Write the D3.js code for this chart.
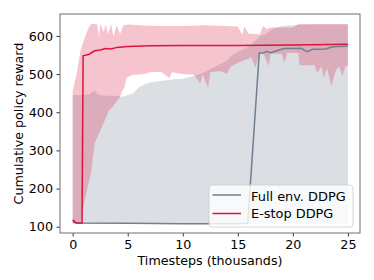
<!DOCTYPE html>
<html>
<head>
<meta charset="utf-8">
<script src="https://cdn.jsdelivr.net/npm/d3@7"></script>
<style>
  body { margin: 0; background: #fff; }
  svg text { font-family: "DejaVu Sans", sans-serif; }
</style>
</head>
<body>
<div class="center"></div>
<script>
// timesteps in thousands, reward values

// Full env. DDPG
var fullMean = [[0,112],[0.5,110],[5,109],[10,108],[15,108],[15.9,109],[16.95,555],[17.3,555],[17.6,559],[18,556],
    [18.6,562],[19.2,567],[20,567],[20.8,568],[21,563],[21.3,559],[21.8,565],[22.5,565],[23,566],[23.5,571],[24,572],[25,573]];
var fullLow = [[0,108],[25,108]];
var fullHigh = [[0,445],[1,445],[1.5,447],[2,457],[2.3,446],[3,443],[4,443],[4.5,440],[5,445],[5.5,450],[6,465],[6.5,472],
    [7,478],[8,482],[9,486],[10,488],[11,495],[12,505],[12.5,513],[13,520],[14,535],[14.6,552],[15,558],[16.1,574],
    [16.5,585],[17,600],[17.5,604],[18,615],[18.5,622],[19,626],[20,628],[22,630],[25,630]];

// E-stop DDPG
var stopMean = [[0,118],[0.3,110],[0.85,110],[0.95,548],[1.5,552],[2,561],[2.5,563],[3,567],[3.5,566],[4,570],[5,572],
    [7,574],[10,575],[15,575],[20,576],[25,578]];
var stopHigh = [[0,456],[0.36,500],[0.7,560],[1.1,596],[1.5,625],[1.7,631],[2.2,631],[2.4,598],[2.5,631],[2.8,610],[3,630],
    [3.2,605],[3.5,630],[3.7,600],[4,628],[4.3,605],[4.6,628],[5,630],[6,628],[8,626],[10,626],[12,628],[14,626],[15,625],
    [15.4,604],[15.6,625],[16,606],[17,604],[17.3,627],[17.6,618],[18,622],[20,622],[20.5,631],[25,631]];
var stopLow = [[0,118],[0.2,110],[0.7,110],[1.1,170],[1.7,248],[2,319],[2.8,371],[3.3,405],[3.6,413],[4.3,440],[4.5,456],
    [4.7,465],[4.9,491],[5.5,498],[6.5,500],[7,505],[8,506],[8.8,490],[9,505],[10,500],[11,498],[11.6,476],[11.8,500],
    [12.3,465],[12.5,505],[13.4,508],[14,500],[14.3,518],[15,530],[16,540],[16.2,545],[16.6,517],[17,555],[17.3,555],
    [17.8,522],[18,553],[19,553],[19.2,530],[19.5,555],[20.5,555],[20.6,523],[22,523],[22.2,502],[22.6,520],[22.8,490],
    [23.1,515],[23.5,469],[23.9,510],[24.2,520],[24.5,495],[24.8,522],[25,522]];

var xTicks = [0, 5, 10, 15, 20, 25];
var yTicks = [100, 200, 300, 400, 500, 600];
var seriesNames = ["Full env. DDPG", "E-stop DDPG"];
var colors = ["slategray", "crimson"];

var margin = {top: 14, right: 14, bottom: 47, left: 60},
    width = 374 - margin.left - margin.right,
    height = 280 - margin.top - margin.bottom;

var x = d3.scaleLinear().domain([-1.15, 26.1]).range([0, width]);
var y = d3.scaleLinear().domain([83.5, 657.5]).range([height, 0]);

// merge a low and high list onto common x positions
function band(low, high) {
    var xs = Array.from(new Set(low.map(function(d) { return d[0]; }).concat(high.map(function(d) { return d[0]; })))).sort(d3.ascending);
    function at(arr, t) {
        var i = d3.bisector(function(d) { return d[0]; }).left(arr, t);
        if (i <= 0) return arr[0][1];
        if (i >= arr.length) return arr[arr.length - 1][1];
        var a = arr[i - 1], b = arr[i];
        if (b[0] === t) return b[1];
        return a[1] + (b[1] - a[1]) * (t - a[0]) / (b[0] - a[0]);
    }
    return xs.map(function(t) { return {t: t, lo: at(low, t), hi: at(high, t)}; });
}

var area = d3.area()
    .x(function(d) { return x(d.t); })
    .y0(function(d) { return y(d.lo); })
    .y1(function(d) { return y(d.hi); });

var line = d3.line()
    .x(function(d) { return x(d[0]); })
    .y(function(d) { return y(d[1]); });

var svg = d3.select(".center").append("svg")
    .attr("width", width + margin.left + margin.right)
    .attr("height", height + margin.top + margin.bottom)
    .append("g")
    .attr("transform", "translate(" + margin.left + "," + margin.top + ")");

svg.append("defs").append("clipPath").attr("id", "clip")
    .append("rect").attr("width", width).attr("height", height);

var plot = svg.append("g").attr("clip-path", "url(#clip)");

// shaded bands
plot.append("path")
    .datum(band(fullLow, fullHigh))
    .attr("d", area)
    .attr("fill", colors[0])
    .attr("fill-opacity", 0.25);

plot.append("path")
    .datum(band(stopLow, stopHigh))
    .attr("d", area)
    .attr("fill", colors[1])
    .attr("fill-opacity", 0.25);

// mean lines
plot.append("path")
    .datum(fullMean)
    .attr("d", line)
    .attr("fill", "none")
    .attr("stroke", colors[0])
    .attr("stroke-width", 1.5);

plot.append("path")
    .datum(stopMean)
    .attr("d", line)
    .attr("fill", "none")
    .attr("stroke", colors[1])
    .attr("stroke-width", 1.5);

// axes
var xAxis = svg.append("g")
    .attr("transform", "translate(0," + height + ")")
    .call(d3.axisBottom(x).tickValues(xTicks).tickSize(3.5).tickPadding(3.5));
var yAxis = svg.append("g")
    .call(d3.axisLeft(y).tickValues(yTicks).tickSize(3.5).tickPadding(3.5));

[xAxis, yAxis].forEach(function(g) {
    g.select(".domain").remove();
    g.selectAll("text").attr("font-size", "12.7px").attr("font-family", "DejaVu Sans, sans-serif").attr("fill", "#000");
    g.selectAll("line").attr("stroke", "#000").attr("stroke-width", 0.8);
});

// frame
svg.append("rect")
    .attr("width", width)
    .attr("height", height)
    .attr("fill", "none")
    .attr("stroke", "#6e6e6e")
    .attr("stroke-width", 1);

// axis labels
svg.append("text")
    .attr("font-size", "12.7px")
    .attr("x", width / 2)
    .attr("y", height + 32)
    .attr("text-anchor", "middle")
    .text("Timesteps (thousands)");

svg.append("text")
    .attr("font-size", "12.7px")
    .attr("transform", "rotate(-90)")
    .attr("x", -height / 2)
    .attr("y", -margin.left + 23)
    .attr("text-anchor", "middle")
    .text("Cumulative policy reward");

// legend
var legend = svg.append("g")
    .attr("transform", "translate(" + (width - 151) + "," + (height - 48) + ")");

legend.append("rect")
    .attr("width", 144)
    .attr("height", 42)
    .attr("rx", 3)
    .attr("fill", "#fff")
    .attr("fill-opacity", 0.8)
    .attr("stroke", "#ccc")
    .attr("stroke-width", 0.8);

seriesNames.forEach(function(name, i) {
    legend.append("line")
        .attr("x1", 3.5)
        .attr("x2", 32)
        .attr("y1", 10 + i * 18.5)
        .attr("y2", 10 + i * 18.5)
        .attr("stroke", colors[i])
        .attr("stroke-width", 1.5);
    legend.append("text")
        .attr("x", 42)
        .attr("y", 15.5 + i * 17.2)
        .attr("font-size", "12.9px")
        .text(name);
});
</script>
</body>
</html>
